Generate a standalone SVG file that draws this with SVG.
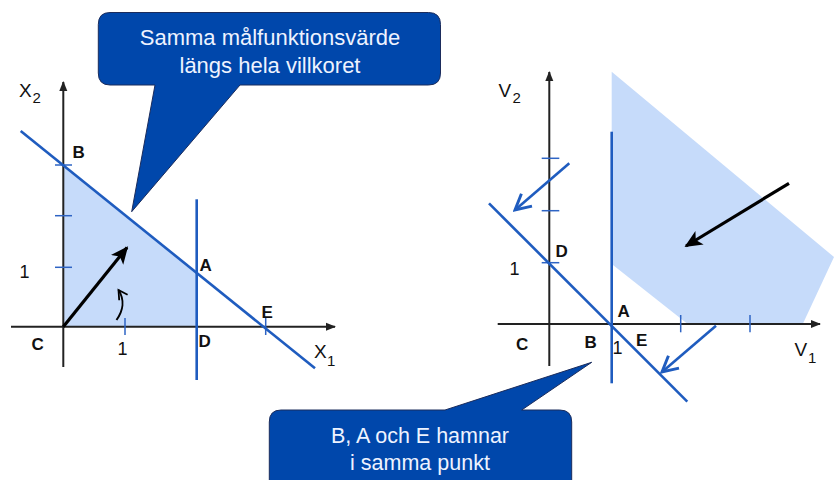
<svg xmlns="http://www.w3.org/2000/svg" width="834" height="480" viewBox="0 0 834 480">
<style>
.axis{stroke:#222;stroke-width:2;fill:none}
.tick{stroke:#2e64c4;stroke-width:1.5}
.con{stroke:#1f5cbf;stroke-width:2.6;fill:none}
.obj{stroke:#000;stroke-width:3.2;fill:none}
.shade{fill:#c6dbfa}
.lbl{font-family:"Liberation Sans",Arial,sans-serif;font-weight:bold;font-size:17px;fill:#111}
.num{font-family:"Liberation Sans",Arial,sans-serif;font-size:18px;fill:#111}
.var{font-family:"Liberation Sans",Arial,sans-serif;font-size:19px;fill:#111}
.sub{font-family:"Liberation Sans",Arial,sans-serif;font-size:15px;fill:#111}
.callout{fill:#0047ab;stroke:#1b2c5c;stroke-width:1}
.ctext{font-family:"Liberation Sans",Arial,sans-serif;font-size:21.5px;fill:#eef3ff;text-anchor:middle}
</style>
<defs>
<marker id="axhead" viewBox="0 0 10 10" refX="9" refY="5" markerWidth="5" markerHeight="5" orient="auto" markerUnits="strokeWidth">
<path d="M0,1 L10,5 L0,9 Z" fill="#222"/>
</marker>
<marker id="blackhead" viewBox="0 0 10 10" refX="9" refY="5" markerWidth="5.5" markerHeight="5.5" orient="auto" markerUnits="strokeWidth">
<path d="M0,0.5 L10,5 L0,9.5 L2.5,5 Z" fill="#000"/>
</marker>
<marker id="bluehead" viewBox="0 0 12 12" refX="10.5" refY="6" markerWidth="7.5" markerHeight="7.5" orient="auto" markerUnits="strokeWidth">
<path d="M1,1 L10.5,6 L1,11" fill="none" stroke="#1f5cbf" stroke-width="1.8"/>
</marker>
<marker id="smallhead" viewBox="0 0 12 12" refX="10" refY="6" markerWidth="6" markerHeight="6" orient="auto" markerUnits="strokeWidth">
<path d="M1,1 L10,6 L1,11" fill="none" stroke="#000" stroke-width="1.8"/>
</marker>
</defs>

<!-- Left panel -->
<g id="left-region">
<polygon class="shade" points="63.3,326.7 63.3,165 196.7,272 196.7,326.7"/>
</g>
<g id="left-axes">
<line class="axis" x1="11" y1="326.7" x2="335" y2="326.7" marker-end="url(#axhead)"/>
<line class="axis" x1="63.3" y1="367" x2="63.3" y2="82" marker-end="url(#axhead)"/>
<line class="tick" x1="55" y1="165" x2="72" y2="165"/>
<line class="tick" x1="55" y1="215.7" x2="72" y2="215.7"/>
<line class="tick" x1="55" y1="267.3" x2="72" y2="267.3"/>
<line class="tick" x1="125" y1="318" x2="125" y2="335"/>
<line class="tick" x1="265.7" y1="318" x2="265.7" y2="335"/>
</g>
<g id="left-connectors">
<line class="con" x1="20.7" y1="131" x2="315" y2="368.3"/>
<line class="con" x1="196.7" y1="199.3" x2="196.7" y2="380"/>
<line class="obj" x1="63.3" y1="326.7" x2="127" y2="247.5" marker-end="url(#blackhead)"/>
<path d="M116.5,320 C123,311 125,300 118.5,290" fill="none" stroke="#000" stroke-width="2" marker-end="url(#smallhead)"/>
</g>
<g id="left-labels">
<text class="var" x="19" y="97">X</text><text class="sub" x="32.5" y="103">2</text>
<text class="lbl" x="72.5" y="158">B</text>
<text class="lbl" x="199.5" y="271">A</text>
<text class="lbl" x="261.5" y="318">E</text>
<text class="lbl" x="198.5" y="347">D</text>
<text class="lbl" x="31.5" y="350">C</text>
<text class="num" x="19.5" y="278">1</text>
<text class="num" x="117.5" y="355">1</text>
<text class="var" x="314" y="358">X</text><text class="sub" x="327" y="366">1</text>
</g>

<!-- Right panel -->
<g id="right-region">
<polygon class="shade" points="611.7,71.7 834,257 803,323.5 687,323.5 611.7,264"/>
</g>
<g id="right-axes">
<line class="axis" x1="497.7" y1="324" x2="820" y2="324" marker-end="url(#axhead)"/>
<line class="axis" x1="549.3" y1="366" x2="549.3" y2="72" marker-end="url(#axhead)"/>
<line class="tick" x1="541.7" y1="158.3" x2="559.3" y2="158.3"/>
<line class="tick" x1="541.7" y1="210.7" x2="559.3" y2="210.7"/>
<line class="tick" x1="541.7" y1="262.7" x2="559.3" y2="262.7"/>
<line class="tick" x1="680.7" y1="315" x2="680.7" y2="332.3"/>
<line class="tick" x1="750" y1="315" x2="750" y2="332.3"/>
</g>
<g id="right-connectors">
<line class="con" x1="611.7" y1="131.7" x2="611.7" y2="383.3"/>
<line class="con" x1="489" y1="203.3" x2="687.3" y2="401.7"/>
<line class="obj" x1="789" y1="183.3" x2="686" y2="246" marker-end="url(#blackhead)"/>
<line class="con" x1="569.3" y1="163.3" x2="515" y2="210" marker-end="url(#bluehead)"/>
<line class="con" x1="716" y1="325.7" x2="662" y2="372" marker-end="url(#bluehead)"/>
</g>
<g id="right-labels">
<text class="var" x="498.5" y="97">V</text><text class="sub" x="512.5" y="102.5">2</text>
<text class="lbl" x="555.5" y="257">D</text>
<text class="num" x="509.5" y="275">1</text>
<text class="lbl" x="617.5" y="317">A</text>
<text class="lbl" x="516" y="350">C</text>
<text class="lbl" x="584.5" y="348">B</text>
<text class="num" x="612.5" y="354">1</text>
<text class="lbl" x="636" y="346">E</text>
<text class="var" x="794.5" y="356">V</text><text class="sub" x="808" y="363">1</text>
</g>

<!-- Callouts -->
<g id="callout-top">
<path class="callout" d="M110,12.5 H428.5 Q440.5,12.5 440.5,24.5 V73 Q440.5,85 428.5,85 H240 L131.7,211.7 L155,85 H110 Q98.3,85 98.3,73 V24.5 Q98.3,12.5 110,12.5 Z"/>
<text class="ctext" x="270" y="45" style="font-size:22px">Samma målfunktionsvärde</text>
<text class="ctext" x="270" y="72.5" style="font-size:22px">längs hela villkoret</text>
</g>
<g id="callout-bottom">
<path class="callout" d="M281,410 H445 L591.7,362.3 L521.7,410 H559.7 Q571.7,410 571.7,422 V495 H269.3 V422 Q269.3,410 281,410 Z"/>
<text class="ctext" x="420" y="442.7">B, A och E hamnar</text>
<text class="ctext" x="420" y="470">i samma punkt</text>
</g>
</svg>
